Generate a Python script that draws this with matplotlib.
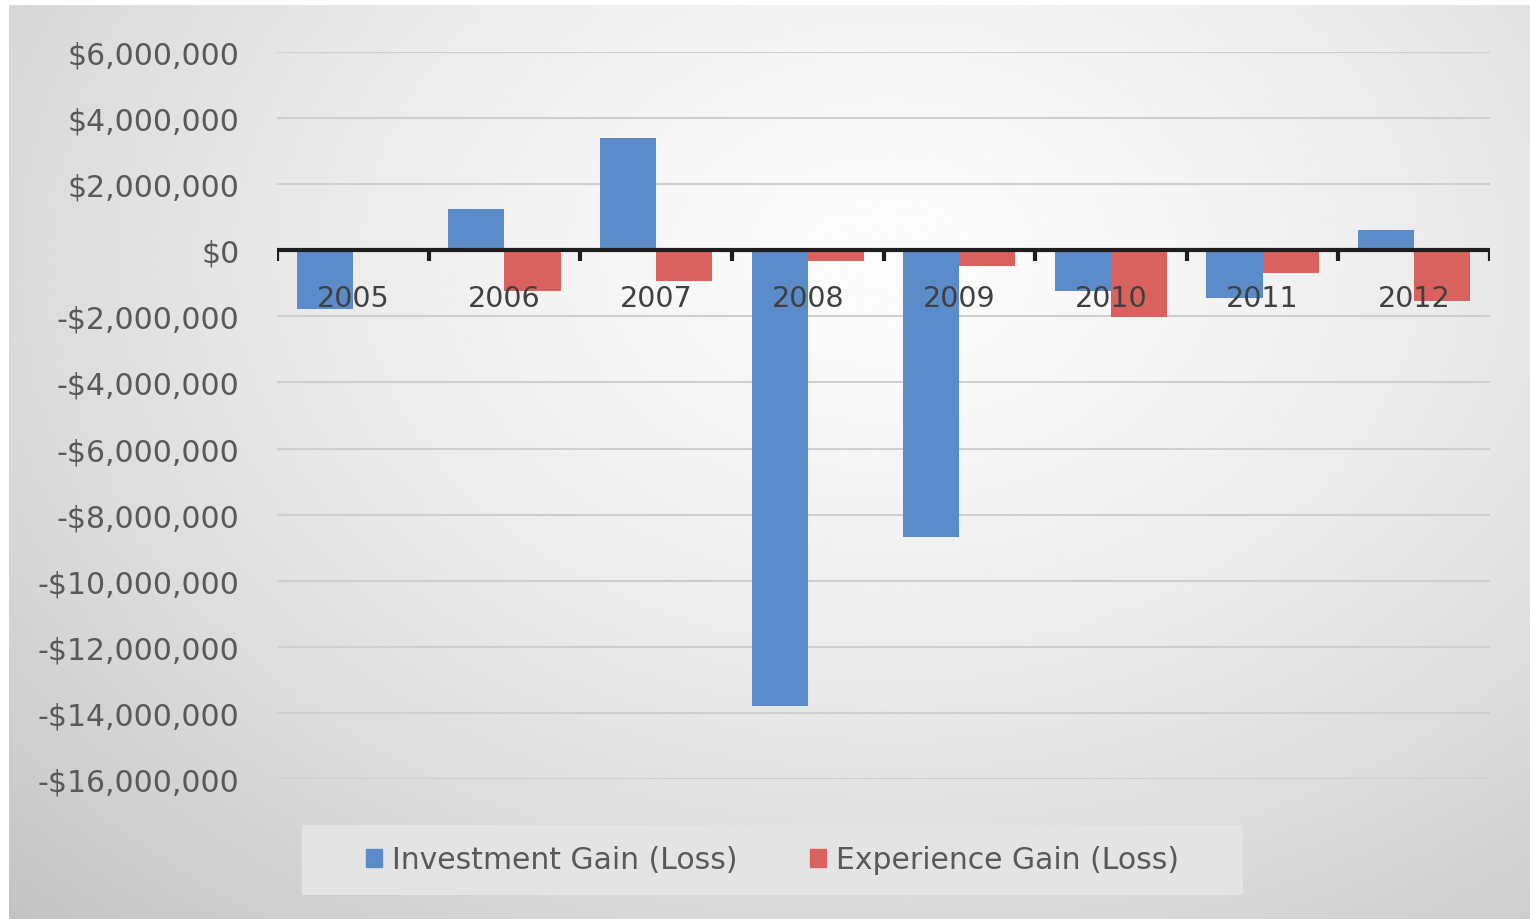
import numpy as np
import matplotlib
matplotlib.use("Agg")
import matplotlib.pyplot as plt
from matplotlib.ticker import FuncFormatter
from matplotlib.patches import Patch

years = ["2005", "2006", "2007", "2008", "2009", "2010", "2011", "2012"]
investment = [-1.79e6, 1.24e6, 3.39e6, -13.8e6, -8.67e6, -1.24e6, -1.45e6, 0.61e6]
experience = [0.05e6, -1.24e6, -0.94e6, -0.33e6, -0.48e6, -2.02e6, -0.70e6, -1.55e6]
y_ticks = np.arange(-16e6, 6e6 + 1, 2e6)

blue = "#5b8bc9"
red = "#d9625f"
text_gray = "#595959"

W, H = 1530, 920
fig = plt.figure(figsize=(W / 100, H / 100), dpi=100)
fig.patch.set_facecolor("white")

# radial grey gradient behind the whole chart
bg = fig.add_axes([9 / W, 0, 1 - 9 / W, 1 - 6 / H])
bg.axis("off")
gx, gy = np.meshgrid(np.linspace(0, 1, 800), np.linspace(0, 1, 480))
r = np.sqrt(((gx - 0.58) / 0.78) ** 2 + ((gy - 0.28) / 0.95) ** 2)
shade = 0.985 - 0.20 * np.clip(r, 0, 1.2) ** 1.5
bg.imshow(shade, cmap="gray", vmin=0, vmax=1, aspect="auto",
          extent=[0, 1, 0, 1], origin="upper", interpolation="bicubic")
bg.set_xlim(0, 1)
bg.set_ylim(0, 1)

ax = fig.add_axes([277 / W, 1 - 780 / H, (1490 - 277) / W, (780 - 53) / H])
ax.patch.set_alpha(0)

x = np.arange(len(years))
bw = 0.37
ax.bar(x - bw / 2, investment, width=bw, color=blue, zorder=3,
       label="Investment Gain (Loss)")
ax.bar(x + bw / 2, experience, width=bw, color=red, zorder=3,
       label="Experience Gain (Loss)")

ax.set_xlim(-0.5, len(years) - 0.5)
ax.set_ylim(-16e6, 6e6)
ax.set_yticks(y_ticks)
ax.yaxis.set_major_formatter(FuncFormatter(
    lambda v, p: "$0" if v == 0 else ("-$" if v < 0 else "$") + f"{abs(v):,.0f}"))
ax.tick_params(axis="y", length=0, pad=27, labelsize=21.5, labelcolor=text_gray)
ax.grid(axis="y", color="#cfcfcf", linewidth=1.5, zorder=0)
for s in ax.spines.values():
    s.set_visible(False)

# category axis drawn along zero with tick marks between groups
ax.axhline(0, color="#1e1e1e", linewidth=3, zorder=4)
ax.set_xticks([])
for b in np.arange(-0.5, len(years), 1.0):
    ax.plot([b, b], [0, -0.32e6], color="#1e1e1e", linewidth=3,
            zorder=4, solid_capstyle="butt")
for xi, yr in zip(x, years):
    ax.text(xi, -1.45e6, yr, ha="center", va="center", fontsize=20.5,
            color="#404040", zorder=5)

# legend panel
lg = fig.add_axes([302 / W, 1 - 896 / H, (1243 - 302) / W, (896 - 826) / H])
lg.set_facecolor("#e4e4e4")
lg.set_xticks([])
lg.set_yticks([])
for s in lg.spines.values():
    s.set_visible(False)
handles = [Patch(color=blue, label="Investment Gain (Loss)"),
           Patch(color=red, label="Experience Gain (Loss)")]
leg = lg.legend(handles=handles, loc="center", ncol=2, frameon=False,
                fontsize=21.5, handlelength=0.55, handleheight=0.55,
                handletextpad=0.35, columnspacing=2.4)
for t in leg.get_texts():
    t.set_color(text_gray)

fig.savefig("out.png", dpi=100)
